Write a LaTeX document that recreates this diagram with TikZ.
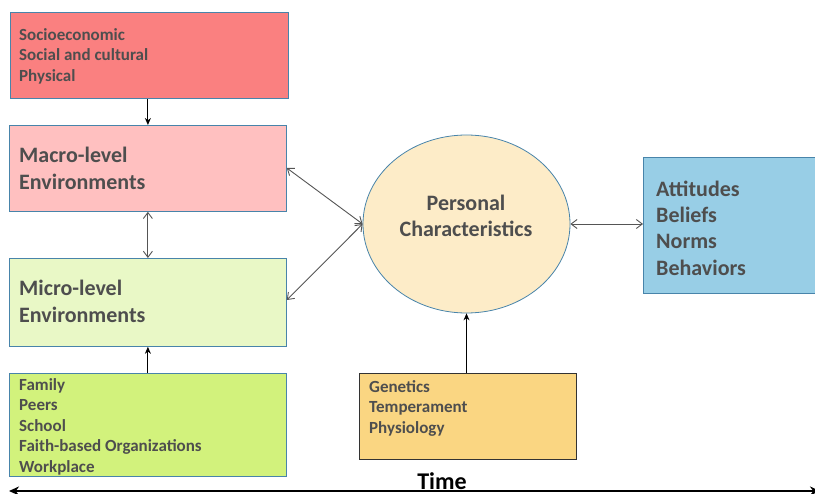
\documentclass[tikz,border=0pt]{standalone}
\usepackage{fontspec}
\setmainfont{Carlito}
\usetikzlibrary{arrows.meta,shapes.geometric}
\definecolor{redA}{RGB}{250,128,128}
\definecolor{pinkB}{RGB}{255,192,192}
\definecolor{greenC}{RGB}{233,248,198}
\definecolor{greenD}{RGB}{210,242,124}
\definecolor{creamE}{RGB}{253,236,200}
\definecolor{blueF}{RGB}{152,206,230}
\definecolor{orangeG}{RGB}{250,214,130}
\definecolor{edgeB}{RGB}{72,132,170}
\definecolor{txtC}{RGB}{78,78,78}
\definecolor{lineG}{RGB}{85,85,85}
\begin{document}
\begin{tikzpicture}[x=1pt,y=-1pt,
  box/.style={draw=edgeB, line width=0.8pt, rectangle, inner sep=0pt, anchor=north west},
  small/.style={anchor=north west, inner sep=0pt, align=left, text=txtC, font=\bfseries\fontsize{17}{20.5}\selectfont},
  big/.style={anchor=north west, inner sep=0pt, align=left, text=txtC, font=\bfseries\fontsize{22}{26.3}\selectfont},
  twoway/.style={draw=lineG, line width=0.9pt, {Straight Barb[length=6pt,width=9pt]}-{Straight Barb[length=6pt,width=9pt]}},
  oneway/.style={draw=black, line width=1pt, -{Stealth[length=7pt,width=6pt]}}
]
\useasboundingbox (0,0) rectangle (815,494);

% boxes
\node[box, fill=redA, minimum width=278, minimum height=86] (soc) at (10,12) {};
\node[box, fill=pinkB, minimum width=277, minimum height=86] (macro) at (9,125) {};
\node[box, fill=greenC, minimum width=277, minimum height=88] (micro) at (9,258) {};
\node[box, fill=greenD, minimum width=277, minimum height=103] (fam) at (9,373) {};
\node[box, fill=blueF, minimum width=180, minimum height=136] (att) at (643,157) {};
\node[box, draw=black!80, fill=orangeG, minimum width=217, minimum height=86] (gen) at (359,373) {};
\node[draw=edgeB, line width=0.8pt, fill=creamE, ellipse, minimum width=207, minimum height=178, inner sep=0pt] (pers) at (466.5,224) {};

% texts
\node[small] (soct) at (19,28.2) {Socioeconomic\\Social and cultural\\Physical};
\node[big] (macrot) at (19,147.2) {Macro-level\\Environments};
\node[big] (microt) at (19,280.2) {Micro-level\\Environments};
\node[small] (famt) at (19,378) {Family\\Peers\\School\\Faith-based Organizations\\Workplace};
\node[small] (gent) at (369,380) {Genetics\\Temperament\\Physiology};
\node[big] (attt) at (656,180.5) {Attitudes\\Beliefs\\Norms\\Behaviors};
\node[anchor=center, inner sep=0pt, align=center, text=txtC, font=\bfseries\fontsize{22}{26.3}\selectfont] (perst) at (466,216) {Personal\\Characteristics};
\node[anchor=center, inner sep=0pt, font=\bfseries\fontsize{24}{28}\selectfont] (time) at (442,481) {Time};

% connectors
\draw[oneway] (macro.north |- soc.south) -- (macro.north);
\draw[twoway] (macro.south) -- (micro.north);
\draw[oneway] (fam.north) -- (micro.south);
\draw[twoway] (macro.east |- 0,168) -- (pers.west);
\draw[twoway] (micro.east |- 0,300) -- (pers.west);
\draw[twoway] (pers.east) -- (att.west |- pers.east);
\draw[oneway] (gen.north -| pers.south) -- (pers.south);

\coordinate (tl) at (9,491);
\coordinate (tr) at (820,491);
\draw[line width=2pt, {Stealth[length=10pt,width=9pt]}-{Stealth[length=10pt,width=9pt]}] (tl) -- (tr);
\end{tikzpicture}
\end{document}
